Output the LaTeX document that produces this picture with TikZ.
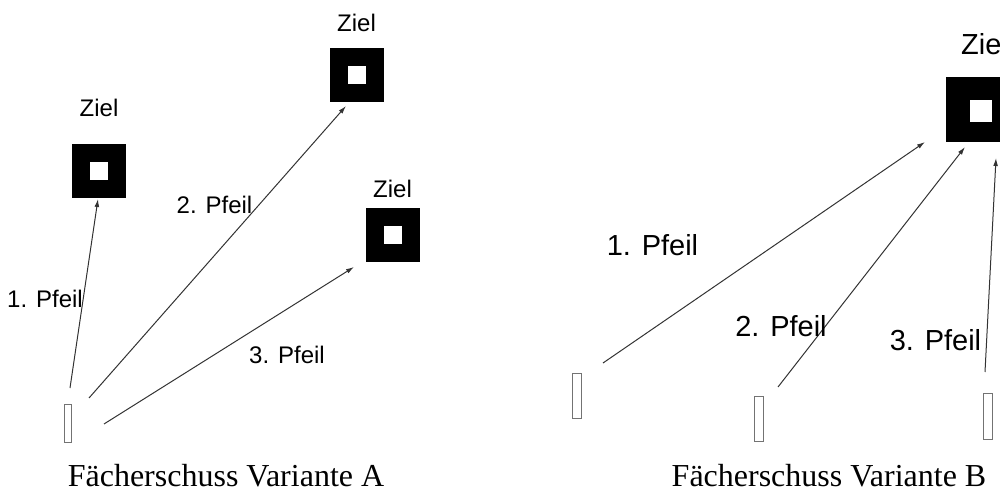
\documentclass[tikz,border=0pt]{standalone}
\usepackage{fontspec}
\setmainfont{Liberation Serif}
\setsansfont{Liberation Sans}
\usetikzlibrary{positioning, arrows.meta}

\tikzset{
    ziel/.style={fill=black, minimum size=#1, inner sep=0pt, outer sep=0pt},
    mitte/.style={fill=white, minimum size=#1, inner sep=0pt, outer sep=0pt},
    schuetze/.style 2 args={draw=black!55, line width=0.5pt, minimum width=#1, minimum height=#2, inner sep=0pt},
    pfeil/.style={draw=black!80, line width=0.5pt, -{Latex[length=4pt, width=2.4pt]}},
    txtA/.style={font=\sffamily\fontsize{12}{14}\selectfont, inner sep=0pt},
    txtB/.style={font=\sffamily\fontsize{14.5}{17}\selectfont, inner sep=0pt},
    titel/.style={font=\fontsize{16}{19}\selectfont, inner sep=0pt, anchor=base}
}

\begin{document}
\begin{tikzpicture}[x=0.5pt, y=-0.5pt]
                \useasboundingbox (0,0) rectangle (1000,491);
                % Variante A
                \node[ziel=27pt] (z1) at (99,171.5) {};
                \node[mitte=9pt] (m1) at (z1) {};
                \node[txtA, above=13.5pt of z1] (l1) {Ziel};
                \node[ziel=27pt] (z2) at (356.5,75.5) {};
                \node[mitte=9pt] (m2) at (z2) {};
                \node[txtA, above=8.3pt of z2] (l2) {Ziel};
                \node[ziel=27pt] (z3) at (392.5,235.5) {};
                \node[mitte=9pt] (m3) at (z3) {};
                \node[txtA, above=5.3pt of z3] (l3) {Ziel};
                \node[schuetze={3.5pt}{19pt}] (s) at (67.5,423) {};
                \coordinate (a1) at (70,388);
                \coordinate (e1) at (98,199);
                \coordinate (a2) at (89,398);
                \coordinate (e2) at (346,106);
                \coordinate (a3) at (104,424);
                \coordinate (e3) at (354,267);
                \draw 
                (a1) edge[pfeil] (e1)
                (a2) edge[pfeil] (e2)
                (a3) edge[pfeil] (e3);
                \node[txtA] (p1) at (45,299) {1. Pfeil};
                \node[txtA] (p2) at (214.5,205) {2. Pfeil};
                \node[txtA] (p3) at (287,355) {3. Pfeil};
                \node[titel] (tA) at (226,486) {Fächerschuss Variante A};
                % Variante B
                \node[ziel=32.5pt] (zb) at (978.5,109.5) {};
                \node[mitte=11pt] (mb) at (981,111) {};
                \node[txtB, above=11pt of zb, xshift=3pt] (lb) {Ziel};
                \node[schuetze={4.5pt}{22.5pt}] (sb1) at (576.5,395.5) {};
                \node[schuetze={4.2pt}{22.5pt}] (sb2) at (759,418.5) {};
                \node[schuetze={4.5pt}{23pt}] (sb3) at (987.5,416) {};
                \coordinate (b1) at (603,363);
                \coordinate (f1) at (925,142);
                \coordinate (b2) at (778,387);
                \coordinate (f2) at (965,147);
                \coordinate (b3) at (985,372);
                \coordinate (f3) at (996,158);
                \draw 
                (b1) edge[pfeil] (f1)
                (b2) edge[pfeil] (f2)
                (b3) edge[pfeil] (f3);
                \node[txtB] (q1) at (652.5,245) {1. Pfeil};
                \node[txtB] (q2) at (781,326) {2. Pfeil};
                \node[txtB] (q3) at (935.5,340) {3. Pfeil};
                \node[titel] (tB) at (829,486) {Fächerschuss Variante B};
            \end{tikzpicture}
\end{document}
